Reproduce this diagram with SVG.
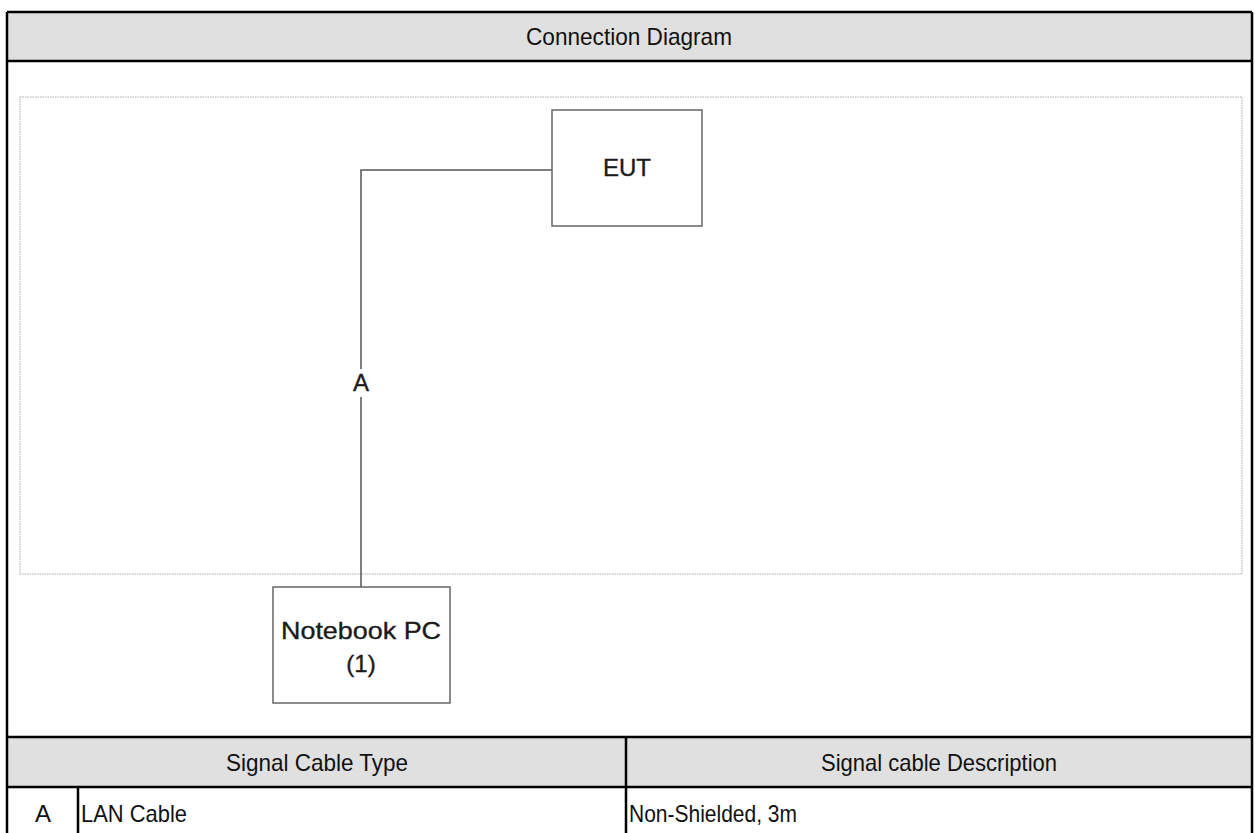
<svg xmlns="http://www.w3.org/2000/svg" width="1255" height="833" viewBox="0 0 1255 833">
<style>
.t{font-family:"Liberation Sans",Arial,sans-serif;font-size:24px;fill:#111}
.n{font-family:"Liberation Sans",Arial,sans-serif;font-size:24px;fill:#1a1a1a;stroke:#1a1a1a;stroke-width:0.35}
.b{stroke:#000;stroke-width:2.5;fill:none}
.box{fill:#fff;stroke:#666;stroke-width:1.5}
.w{stroke:#555;stroke-width:1.5;fill:none}
</style>
<rect width="1255" height="833" fill="#fff"/>
<g id="table">
<rect x="7" y="12" width="1245" height="49" fill="#e0e0e0"/>
<rect x="7" y="737" width="1245" height="50" fill="#e0e0e0"/>
<path class="b" d="M7,12H1252M7,61H1252M7,737H1252M7,787H1252M7,12V833M1252,12V833M626,737V833M78,787V833"/>
<text class="t" x="629" y="45" text-anchor="middle" textLength="206" lengthAdjust="spacingAndGlyphs">Connection Diagram</text>
<text class="t" x="317" y="771" text-anchor="middle" textLength="182" lengthAdjust="spacingAndGlyphs">Signal Cable Type</text>
<text class="t" x="939" y="771" text-anchor="middle" textLength="236" lengthAdjust="spacingAndGlyphs">Signal cable Description</text>
<text class="t" x="43" y="822" text-anchor="middle">A</text>
<text class="t" x="81" y="822" textLength="106" lengthAdjust="spacingAndGlyphs">LAN Cable</text>
<text class="t" x="629" y="822" textLength="168" lengthAdjust="spacingAndGlyphs">Non-Shielded, 3m</text>
</g>
<rect id="frame" x="20" y="97" width="1222" height="477" fill="none" stroke="#c8c8c8" stroke-width="1.5" stroke-dasharray="1.5 1"/>
<g id="connectors">
<path class="w" d="M552,170H361V587"/>
<rect x="350" y="369" width="22" height="28" fill="#fff"/>
<text class="n" x="361" y="391" text-anchor="middle" font-size="21">A</text>
</g>
<g id="eut">
<rect class="box" x="552" y="110" width="150" height="116"/>
<text class="n" x="627" y="176" text-anchor="middle">EUT</text>
</g>
<g id="notebook">
<rect class="box" x="273" y="587" width="177" height="116"/>
<text class="n" x="361" y="639" text-anchor="middle" textLength="160" lengthAdjust="spacingAndGlyphs">Notebook PC</text>
<text class="n" x="361" y="672" text-anchor="middle">(1)</text>
</g>
</svg>
